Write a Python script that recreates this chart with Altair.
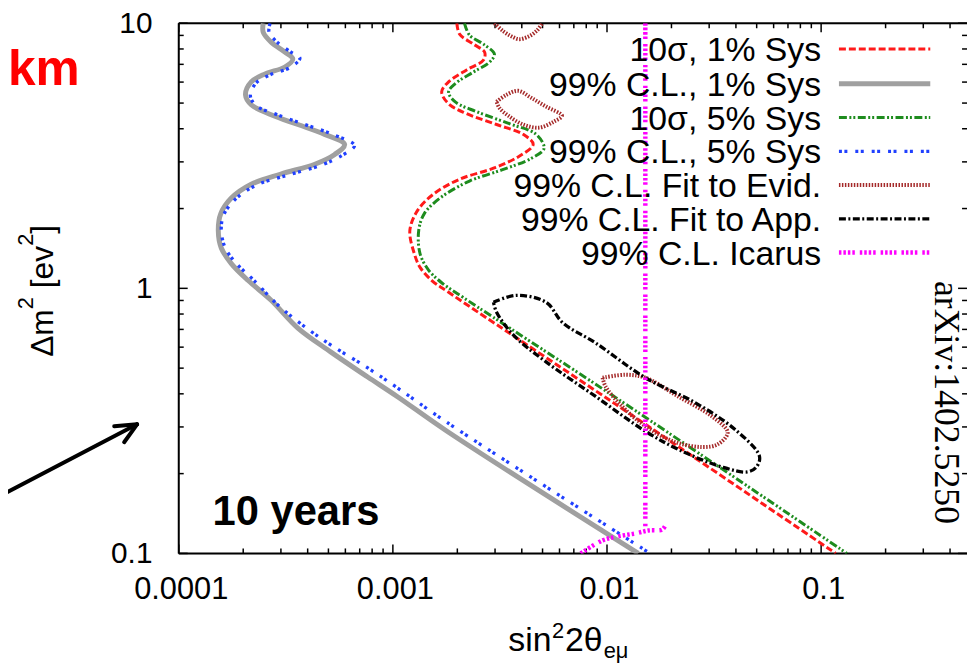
import altair as alt
import pandas as pd

# ---------------- values ----------------
# 10 sigma, 1% Sys (red dashed)
red_x = [1.99e-3, 2.05e-3, 2.38e-3, 2.68e-3, 2.65e-3, 2.21e-3, 1.82e-3, 1.69e-3, 1.82e-3, 2.21e-3,
         3.05e-3, 4.06e-3, 4.52e-3, 3.89e-3, 2.95e-3, 2.05e-3, 1.55e-3, 1.30e-3, 1.20e-3, 1.26e-3,
         1.34e-3, 1.52e-3, 1.79e-3, 1.10e-2, 0.117]
red_y = [10, 9.10, 8.34, 7.79, 7.27, 6.67, 6.01, 5.51, 4.97, 4.56,
         4.15, 3.81, 3.49, 3.15, 2.84, 2.58, 2.27, 1.96, 1.65, 1.35,
         1.20, 1.07, 0.975, 0.365, 0.1]

# 99% C.L., 1% Sys (gray solid)
gray_x = [2.48e-4, 2.48e-4, 2.70e-4, 3.13e-4, 3.41e-4, 3.13e-4, 2.53e-4, 2.18e-4, 2.05e-4, 2.18e-4,
          2.70e-4, 3.60e-4, 4.80e-4, 5.95e-4, 5.35e-4, 4.32e-4, 3.00e-4, 2.18e-4, 1.76e-4, 1.57e-4,
          1.53e-4, 1.58e-4, 1.76e-4, 2.11e-4, 2.70e-4, 3.60e-4, 5.12e-4, 7.60e-4, 1.047e-3, 1.79e-3,
          1.40e-2]
gray_y = [10, 9.25, 8.49, 7.79, 7.33, 6.84, 6.44, 6.01, 5.37, 4.93,
          4.52, 4.15, 3.81, 3.49, 3.20, 2.94, 2.70, 2.47, 2.19, 1.91,
          1.65, 1.42, 1.24, 1.07, 0.902, 0.708, 0.576, 0.464, 0.391, 0.289,
          0.1]

# 10 sigma, 5% Sys (green dash-dot-dot)
green_x = [2.16e-3, 2.28e-3, 2.65e-3, 2.98e-3, 2.83e-3, 2.38e-3, 1.95e-3, 1.82e-3, 1.95e-3, 2.46e-3,
           3.50e-3, 4.67e-3, 5.08e-3, 4.42e-3, 3.28e-3, 2.28e-3, 1.66e-3, 1.40e-3, 1.32e-3, 1.34e-3,
           1.47e-3, 1.69e-3, 2.16e-3, 1.10e-2, 0.132]
green_y = [10, 9.02, 8.34, 7.65, 7.14, 6.55, 5.91, 5.51, 5.06, 4.64,
           4.18, 3.81, 3.37, 3.09, 2.81, 2.54, 2.19, 1.91, 1.65, 1.35,
           1.17, 1.05, 0.917, 0.387, 0.1]

# 99% C.L., 5% Sys (blue dotted)
blue_x = [2.67e-4, 2.64e-4, 2.88e-4, 3.34e-4, 3.68e-4, 3.34e-4, 2.67e-4, 2.30e-4, 2.16e-4, 2.30e-4,
          2.88e-4, 3.88e-4, 5.23e-4, 6.62e-4, 5.82e-4, 4.60e-4, 3.20e-4, 2.30e-4, 1.84e-4, 1.62e-4,
          1.58e-4, 1.65e-4, 1.86e-4, 2.25e-4, 2.91e-4, 4.01e-4, 5.12e-4, 7.60e-4, 1.047e-3, 1.79e-3,
          1.59e-2]
blue_y = [10, 9.25, 8.49, 7.79, 7.39, 6.84, 6.39, 5.96, 5.33, 4.89,
          4.52, 4.15, 3.81, 3.46, 3.18, 2.91, 2.67, 2.45, 2.17, 1.89,
          1.65, 1.42, 1.24, 1.07, 0.864, 0.702, 0.612, 0.502, 0.422, 0.312,
          0.1]

# 99% C.L. fit to evidence (brown), three islands
evid_top_x = [2.98e-3, 3.28e-3, 3.57e-3, 3.89e-3, 4.33e-3, 4.72e-3, 4.98e-3]
evid_top_y = [10, 9.33, 8.94, 8.71, 8.94, 9.41, 10]
evid_mid_x = [3.05e-3, 3.39e-3, 3.85e-3, 4.42e-3, 5.19e-3, 6.16e-3, 5.66e-3, 4.82e-3, 4.06e-3, 3.46e-3, 3.14e-3, 3.05e-3]
evid_mid_y = [5.06, 5.37, 5.56, 5.24, 4.85, 4.48, 4.26, 4.04, 4.15, 4.48, 4.80, 5.06]
evid_low_x = [9.54e-3, 1.22e-2, 1.51e-2, 2.15e-2, 3.09e-2, 3.66e-2, 3.29e-2, 2.78e-2, 2.08e-2, 1.51e-2, 1.18e-2, 9.85e-3, 9.54e-3]
evid_low_y = [0.460, 0.472, 0.460, 0.391, 0.329, 0.286, 0.258, 0.252, 0.263, 0.302, 0.358, 0.426, 0.460]

# 99% C.L. fit to appearance (black dash-dot), closed contour
app_x = [2.95e-3, 3.77e-3, 5.19e-3, 6.23e-3, 8.85e-3, 1.51e-2, 2.57e-2, 3.95e-2, 5.15e-2, 4.99e-2,
         4.53e-2, 3.43e-2, 2.15e-2, 1.51e-2, 8.85e-3, 5.19e-3, 3.65e-3, 3.05e-3, 2.95e-3]
app_y = [0.886, 0.941, 0.886, 0.740, 0.622, 0.460, 0.371, 0.294, 0.233, 0.212,
         0.203, 0.212, 0.247, 0.289, 0.391, 0.528, 0.667, 0.813, 0.886]

# 99% C.L. Icarus (magenta)
icarus_v_x = [1.51e-2, 1.51e-2, 1.51e-2]
icarus_v_y = [10, 0.5, 0.126]
icarus_b_x = [7.54e-3, 9.54e-3, 1.13e-2, 1.36e-2, 1.56e-2, 1.81e-2, 1.87e-2]
icarus_b_y = [0.1, 0.112, 0.116, 0.119, 0.122, 0.123, 0.127]

legend_labels = ["10σ, 1% Sys", "99% C.L., 1% Sys", "10σ, 5% Sys", "99% C.L., 5% Sys",
                 "99% C.L. Fit to Evid.", "99% C.L. Fit to App.", "99% C.L. Icarus"]

x_label_ticks = [1e-4, 1e-3, 1e-2, 1e-1]
x_minor_ticks = [2e-4, 3e-4, 4e-4, 5e-4, 6e-4, 7e-4, 8e-4, 9e-4,
                 2e-3, 3e-3, 4e-3, 5e-3, 6e-3, 7e-3, 8e-3, 9e-3,
                 2e-2, 3e-2, 4e-2, 5e-2, 6e-2, 7e-2, 8e-2, 9e-2,
                 0.2, 0.3, 0.4]
y_label_ticks = [0.1, 1, 10]
y_minor_ticks = [0.2, 0.3, 0.4, 0.5, 0.6, 0.7, 0.8, 0.9, 2, 3, 4, 5, 6, 7, 8, 9]

# ---------------- layout / style ----------------
W, H = 794, 534
FONT = "Liberation Sans"

xs = alt.Scale(type="log", domain=[1e-4, 0.48], nice=False)
ys = alt.Scale(type="log", domain=[0.1, 10], nice=False)
xaxis = alt.Axis(values=x_label_ticks, format="~g", labelFont=FONT, labelFontSize=31,
                 labelColor="black", labelPadding=21, ticks=False, domain=False, grid=False,
                 labelFlush=False, labelOverlap=False, labelOffset=2)
yaxis = alt.Axis(values=y_label_ticks, format="~g", labelFont=FONT, labelFontSize=30,
                 labelColor="black", labelPadding=27, ticks=False, domain=False, grid=False,
                 labelFlush=False, labelOverlap=False)


def X():
    return alt.X("x:Q", scale=xs, axis=xaxis, title=None)


def Y():
    return alt.Y("y:Q", scale=ys, axis=yaxis, title=None)


ONE = pd.DataFrame({"a": [0]})

STYLES = [
    dict(color="#ff1a1a", strokeWidth=3, strokeDash=[7, 3]),
    dict(color="#a0a0a0", strokeWidth=5),
    dict(color="#1e8c1e", strokeWidth=3, strokeDash=[8, 2.5, 2, 2, 2, 2.5]),
    dict(color="#2040ff", strokeWidth=3.3, strokeDash=[3, 2.5, 3, 8]),
    dict(color="#a52a2a", strokeWidth=4, strokeDash=[1.5, 1.5]),
    dict(color="#000000", strokeWidth=3.3, strokeDash=[7, 2.5, 2, 2.5]),
    dict(color="#ff00ff", strokeWidth=4.5, strokeDash=[2.5, 2, 2.5, 2, 2.5, 2, 2.5, 5]),
]


def curve(xv, yv, style):
    df = pd.DataFrame({"x": xv, "y": yv, "o": list(range(len(xv)))})
    return alt.Chart(df).mark_line(interpolate="catmull-rom", clip=True, **style).encode(
        x=X(), y=Y(), order=alt.Order("o:Q"))


layers = []

# frame (left, top, bottom; the right side is outside the picture)
for enc in [dict(x=alt.value(0), x2=alt.value(W + 2), y=alt.value(H)),
            dict(x=alt.value(0), x2=alt.value(W + 2), y=alt.value(0)),
            dict(x=alt.value(0), y=alt.value(0), y2=alt.value(H))]:
    layers.append(alt.Chart(ONE).mark_rule(color="black", strokeWidth=2).encode(**enc))

# ticks (inward, on all four sides)
for vals, ln in [(x_label_ticks, 9), (x_minor_ticks, 5)]:
    d = pd.DataFrame({"x": vals})
    layers.append(alt.Chart(d).mark_rule(color="black", strokeWidth=1.5).encode(
        x=X(), y=alt.value(H), y2=alt.value(H - ln)))
    layers.append(alt.Chart(d).mark_rule(color="black", strokeWidth=1.5).encode(
        x=X(), y=alt.value(0), y2=alt.value(ln)))
for vals, ln in [(y_label_ticks, 9), (y_minor_ticks, 5)]:
    d = pd.DataFrame({"y": vals})
    layers.append(alt.Chart(d).mark_rule(color="black", strokeWidth=1.5).encode(
        y=Y(), x=alt.value(0), x2=alt.value(ln)))
    layers.append(alt.Chart(d).mark_rule(color="black", strokeWidth=1.5).encode(
        y=Y(), x=alt.value(W), x2=alt.value(W - ln)))

# curves, in legend order
layers.append(curve(red_x, red_y, STYLES[0]))
layers.append(curve(gray_x, gray_y, STYLES[1]))
layers.append(curve(green_x, green_y, STYLES[2]))
layers.append(curve(blue_x, blue_y, STYLES[3]))
layers.append(curve(evid_top_x, evid_top_y, STYLES[4]))
layers.append(curve(evid_mid_x, evid_mid_y, STYLES[4]))
layers.append(curve(evid_low_x, evid_low_y, STYLES[4]))
layers.append(curve(app_x, app_y, STYLES[5]))
layers.append(curve(icarus_v_x, icarus_v_y, STYLES[6]))
layers.append(curve(icarus_b_x, icarus_b_y, STYLES[6]))

# legend (labels left of the line samples)
row_y = [26, 61, 95, 129, 163, 197, 231]
for lab, st, ry in zip(legend_labels, STYLES, row_y):
    layers.append(alt.Chart(ONE).mark_text(text=lab, align="right", baseline="alphabetic",
                                           font=FONT, fontSize=34, color="black").encode(
        x=alt.value(647), y=alt.value(ry + 12)))
    layers.append(alt.Chart(ONE).mark_rule(**st).encode(
        x=alt.value(665), x2=alt.value(757), y=alt.value(ry)))


# annotations (pixel positions relative to the plot's top-left corner)
def text(t, x, y, **kw):
    base = dict(font=FONT, color="black", align="left", baseline="alphabetic")
    base.update(kw)
    return alt.Chart(ONE).mark_text(text=t, **base).encode(x=alt.value(x), y=alt.value(y))


layers.append(text("10 years", 34, 505, fontSize=42, fontWeight="bold"))
layers.append(text("arXiv:1402.5250", 762, 382, fontSize=36, font="Liberation Serif",
                   angle=90, align="center"))

# y title: Δm² [ev²] (rotated, read bottom to top)
for t, px, py, fs in [("Δm", -127, 336, 32), ("2", -147, 288, 22), ("[ev", -127, 267, 32),
                      ("2", -147, 224, 22), ("]", -127, 212, 32)]:
    layers.append(text(t, px, py, fontSize=fs, angle=270))

# x title: sin²2θ_eμ
for t, px, py, fs in [("sin", 332, 632, 34), ("2", 376, 619, 22), ("2θ", 389, 632, 34),
                      ("eμ", 428, 639, 22)]:
    layers.append(text(t, px, py, fontSize=fs))

layers.append(text("km", -172, 62, fontSize=50, fontWeight="bold", color="#ff0000"))

# arrow
for enc in [dict(x=alt.value(-180), y=alt.value(476), x2=alt.value(-42), y2=alt.value(404)),
            dict(x=alt.value(-42), y=alt.value(404), x2=alt.value(-65), y2=alt.value(406)),
            dict(x=alt.value(-42), y=alt.value(404), x2=alt.value(-55), y2=alt.value(422))]:
    layers.append(alt.Chart(ONE).mark_rule(color="black", strokeWidth=4, strokeCap="round").encode(**enc))

chart = alt.layer(*layers).properties(
    width=W, height=H,
    padding={"left": 172, "top": 13, "right": 0, "bottom": 108},
    autosize=alt.AutoSizeParams(type="none"),
).configure_view(stroke=None).configure(background="white")

chart.save("out.html", embed_options={"renderer": "svg", "actions": False})
